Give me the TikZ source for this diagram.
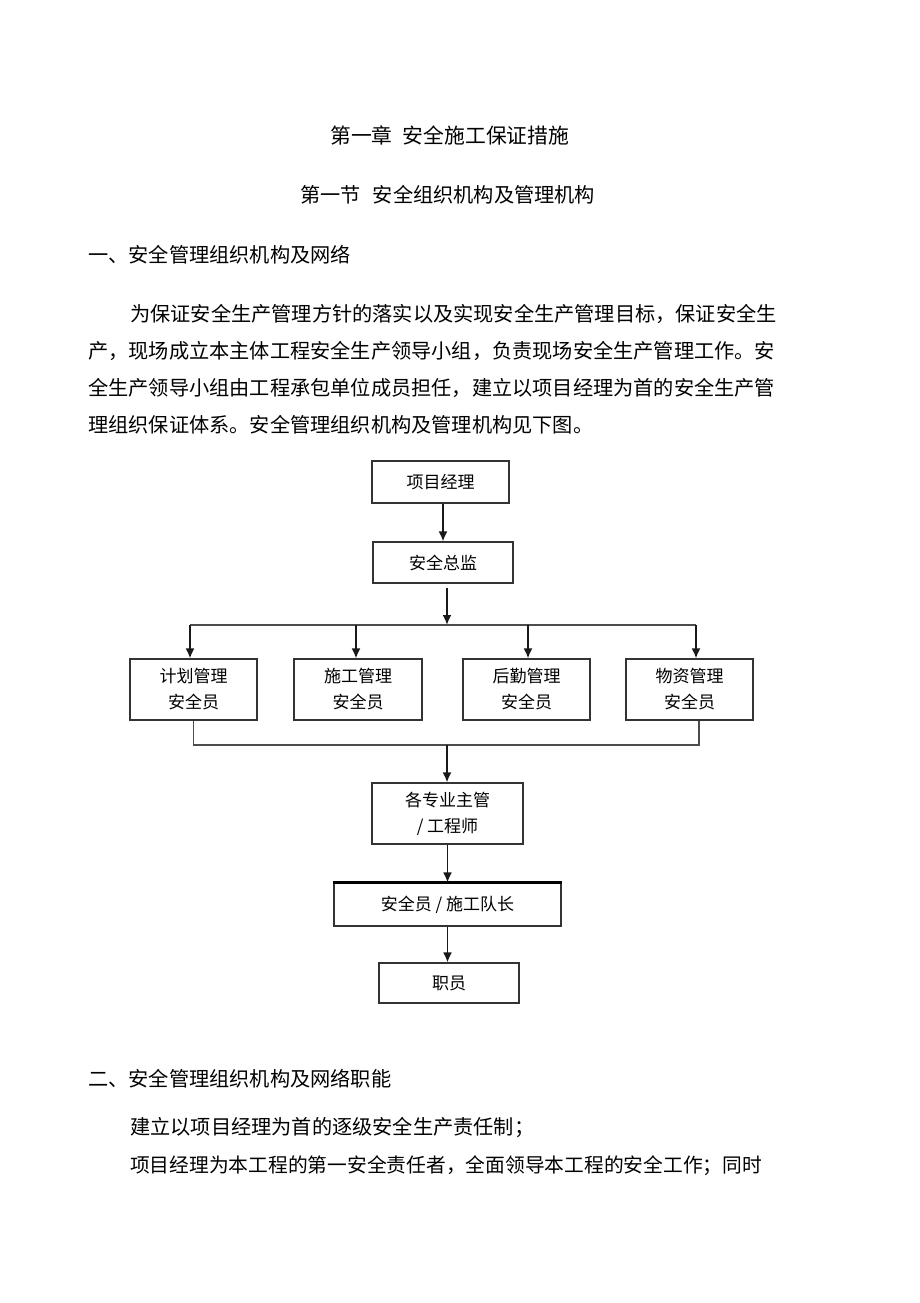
\documentclass[tikz,border=0pt]{standalone}
\usepackage{fontspec}
\setmainfont{Noto Sans CJK SC}
\usetikzlibrary{arrows.meta,positioning}
\tikzset{
  box/.style={draw=black!80, line width=1.1pt, inner sep=0pt, align=center,
    font=\fontsize{17}{26}\selectfont},
  arr/.style={-{Latex[length=10pt,width=9pt]}, line width=1.9pt, black!90},
  wire/.style={line width=1.2pt, black!70},
  txt/.style={anchor=west, inner sep=0pt, font=\fontsize{20.2}{20.2}\selectfont},
  head/.style={txt, font=\fontsize{20.8}{20.8}\selectfont}
}
\begin{document}
\begin{tikzpicture}[x=1pt,y=-1pt]
\useasboundingbox[fill=white] (0,0) rectangle (920,1303);
\node[head] (title) at (330,135) {第一章\hspace{0.5em}安全施工保证措施};
\node[txt] (sect) at (300,195) {第一节\hspace{0.6em}安全组织机构及管理机构};
\node[txt] (headA) at (88,255) {一、安全管理组织机构及网络};
\node[txt] (parA) at (130,314) {为保证安全生产管理方针的落实以及实现安全生产管理目标，保证安全生};
\node[txt] (parB) at (88,351) {产，现场成立本主体工程安全生产领导小组，负责现场安全生产管理工作。安};
\node[txt] (parC) at (88,388) {全生产领导小组由工程承包单位成员担任，建立以项目经理为首的安全生产管};
\node[txt] (parD) at (88,425) {理组织保证体系。安全管理组织机构及管理机构见下图。};
\node[box, minimum width=137pt, minimum height=42pt] (pm) at (440.5,482) {项目经理};
\node[box, minimum width=140pt, minimum height=41pt] (chief) at (443,562.5) {安全总监};
\coordinate (bus) at (447,625);
\node[box, minimum width=127pt, minimum height=61pt] (plan) at (193.5,689.5) {计划管理\\安全员};
\node[box, minimum width=128pt, minimum height=61pt] (cons) at (358,689.5) {施工管理\\安全员};
\node[box, minimum width=127pt, minimum height=61pt] (logi) at (526.5,689.5) {后勤管理\\安全员};
\node[box, minimum width=127pt, minimum height=61pt] (mat) at (689.5,689.5) {物资管理\\安全员};
\coordinate (sink) at (447,745);
\node[box, minimum width=151pt, minimum height=61pt] (eng) at (447.5,813.5) {各专业主管\\/ 工程师};
\node[box, minimum width=227pt, minimum height=43pt] (team) at (447.5,904.5) {安全员 / 施工队长};
\node[box, minimum width=140pt, minimum height=40pt] (staff) at (449,983) {职员};
\draw[line width=2.4pt] (team.north west) -- (team.north east);
\draw[arr] (chief.north |- pm.south) -- (chief.north);
\draw[arr] ([yshift=-4pt]chief.south -| bus) -- (bus);
\draw[wire] ([xshift=-3.5pt]plan.north |- bus) -- ([xshift=6.5pt]mat.north |- bus);
\foreach \b/\d in {plan/-3.5, cons/-2, logi/1.5, mat/6.5}
  \draw[arr] ([xshift=\d pt]\b.north |- bus) -- ([xshift=\d pt]\b.north);
\draw[wire] (plan.south) |- (sink) -| ([xshift=9.5pt]mat.south);
\draw[arr] (sink) -- (sink |- eng.north);
\draw[arr] (eng.south) -- (team.north);
\draw[arr] (team.south) -- (team.south |- staff.north);
\node[txt] (headB) at (88,1079) {二、安全管理组织机构及网络职能};
\node[txt] (parE) at (130,1128) {建立以项目经理为首的逐级安全生产责任制；};
\node[txt, font=\fontsize{19.75}{19.75}\selectfont] (parF) at (130,1166) {项目经理为本工程的第一安全责任者，全面领导本工程的安全工作；同时};
\end{tikzpicture}
\end{document}
